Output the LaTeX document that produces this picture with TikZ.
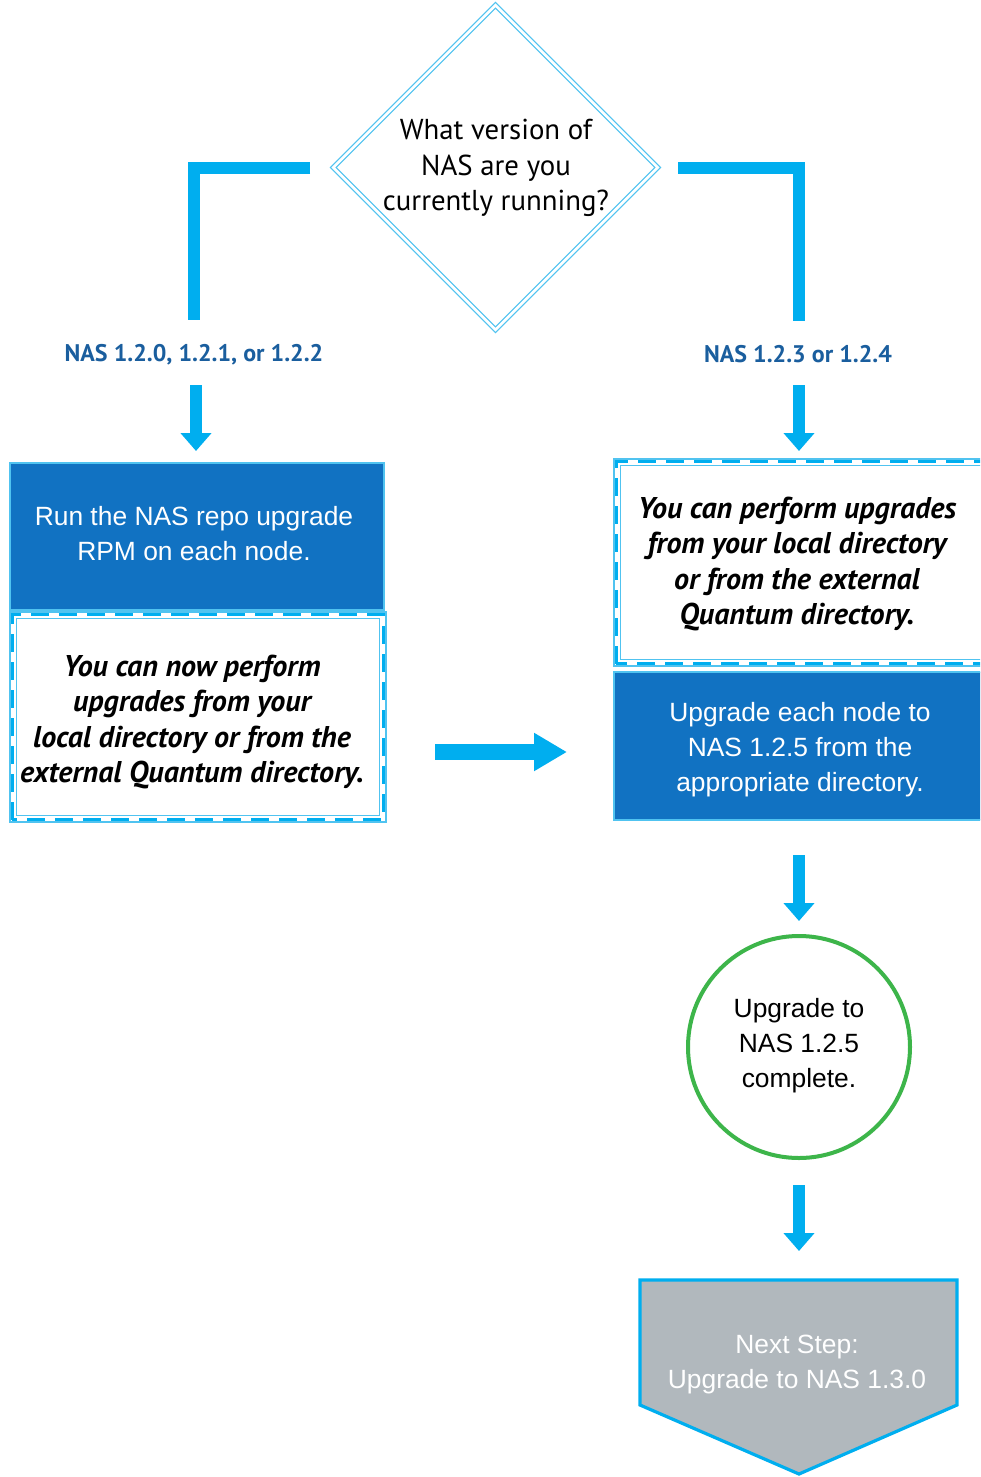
\documentclass[tikz,border=0pt]{standalone}
\usepackage{fontspec}
\setmainfont{Liberation Sans}
\newfontfamily\myr{PT Sans}
\usetikzlibrary{arrows.meta,shapes.geometric,calc}
\definecolor{arrowcyan}{RGB}{0,174,239}
\definecolor{lightcyan}{RGB}{80,195,240}
\definecolor{boxblue}{RGB}{17,114,194}
\definecolor{labelblue}{RGB}{26,94,158}
\definecolor{circgreen}{RGB}{61,181,74}
\definecolor{stepgray}{RGB}{177,184,189}
\tikzset{
  bar/.style={draw=arrowcyan,line width=6pt,line join=miter},
  downarrow/.style={draw=arrowcyan,line width=6pt,-{Triangle[width=15pt,length=9pt]}},
  rightarrow/.style={draw=arrowcyan,line width=8pt,-{Triangle[width=18pt,length=16.5pt]}},
  bluebox/.style={rectangle,fill=boxblue,draw=lightcyan,line width=1.2pt,inner sep=0pt},
  whitebox/.style={rectangle,fill=white,draw=lightcyan,line width=0.6pt,inner sep=0pt},
  dashline/.style={draw=arrowcyan,line width=1.6pt,dash pattern=on 9pt off 5pt},
  innerline/.style={draw=lightcyan,line width=0.5pt},
  bluetext/.style={text=white,align=center,font=\fontsize{13.2}{17.5}\selectfont},
  italtext/.style={text=black,align=center,font=\myr\bfseries\itshape\fontsize{15}{17.8}\selectfont},
  verlabel/.style={text=labelblue,font=\myr\bfseries\fontsize{12}{14}\selectfont},
}
\begin{document}
\begin{tikzpicture}[x=0.5pt,y=-0.5pt]
\clip (0,0) rectangle (980,1477);
\fill[white] (0,0) rectangle (980,1477);
% decision diamond
\node[diamond,aspect=1,inner sep=0pt,minimum width=162.5pt,minimum height=162.5pt,
  draw=lightcyan,line width=0.6pt,double=white,double distance=1.4pt] (q) at (495.5,167.5) {};
\node[align=center,font=\myr\fontsize{14.4}{17.6}\selectfont] (qtext) at (496,168) {What version of\\NAS are you\\currently running?};
% version labels
\node[verlabel] (lab1) at (194,355) {NAS 1.2.0, 1.2.1, or 1.2.2};
\node[verlabel] (lab2) at (798,354) {NAS 1.2.3 or 1.2.4};
\coordinate (dl) at (310,168);
\coordinate (dr) at (678,168);
\draw[bar] (dl) -| ($(lab1.north)+(0,-18)$);
\draw[bar] (dr) -| ($(lab2.north)+(1,-17)$);
% left boxes
\node[bluebox,minimum width=187pt,minimum height=73.5pt] (run) at (197,536.5) {};
\node[bluetext] (runtext) at (194,534) {Run the NAS repo upgrade\\RPM on each node.};
\node[whitebox,minimum width=188pt,minimum height=105pt] (now) at (198,717) {};
\draw[dashline] ($(now.south west)+(3,-3)$) rectangle ($(now.north east)+(-3,3)$);
\draw[innerline] ($(now.south west)+(7,-7)$) rectangle ($(now.north east)+(-7,7)$);
\node[italtext] (nowtext) at (192,722) {You can now perform\\upgrades from your\\local directory or from the\\external Quantum directory.};
% right boxes
\node[whitebox,minimum width=198pt,minimum height=103.5pt] (can) at (812,562.5) {};
\draw[dashline] ($(can.south west)+(3,-3)$) rectangle ($(can.north east)+(-3,3)$);
\draw[innerline] ($(can.south west)+(7,-7)$) rectangle ($(can.north east)+(-7,7)$);
\node[italtext] (cantext) at (797,564) {You can perform upgrades\\from your local directory\\or from the external\\Quantum directory.};
\node[bluebox,minimum width=198pt,minimum height=74pt] (upg) at (812,746) {};
\node[bluetext] (upgtext) at (800,750) {Upgrade each node to\\NAS 1.2.5 from the\\appropriate directory.};
% circle
\node[circle,draw=circgreen,line width=2pt,fill=white,minimum size=111pt,inner sep=0pt] (done) at (799,1047) {};
\node[align=center,font=\fontsize{13.2}{17.5}\selectfont] (donetext) at (799,1046) {Upgrade to\\NAS 1.2.5\\complete.};
% next step pentagon
\coordinate (ptl) at (640,1280);
\coordinate (ptr) at (957,1280);
\coordinate (prb) at (957,1405);
\coordinate (pbot) at (799,1474);
\coordinate (plb) at (640,1405);
\draw[fill=stepgray,draw=arrowcyan,line width=1.6pt,line join=miter] (ptl) -- (ptr) -- (prb) -- (pbot) -- (plb) -- cycle;
\node[bluetext] (next) at (797,1365) {Next Step:\\Upgrade to NAS 1.3.0};
% arrows
\coordinate (a1s) at (196,385); \coordinate (a1e) at (196,451);
\coordinate (a2s) at (799,385); \coordinate (a2e) at (799,451);
\coordinate (a3s) at (435,752); \coordinate (a3e) at (567,752);
\coordinate (a4s) at (799,855); \coordinate (a4e) at (799,921);
\coordinate (a5s) at (799,1185); \coordinate (a5e) at (799,1251);
\draw[downarrow] (a1s) -- (a1e);
\draw[downarrow] (a2s) -- (a2e);
\draw[rightarrow] (a3s) -- (a3e);
\draw[downarrow] (a4s) -- (a4e);
\draw[downarrow] (a5s) -- (a5e);
\end{tikzpicture}
\end{document}
